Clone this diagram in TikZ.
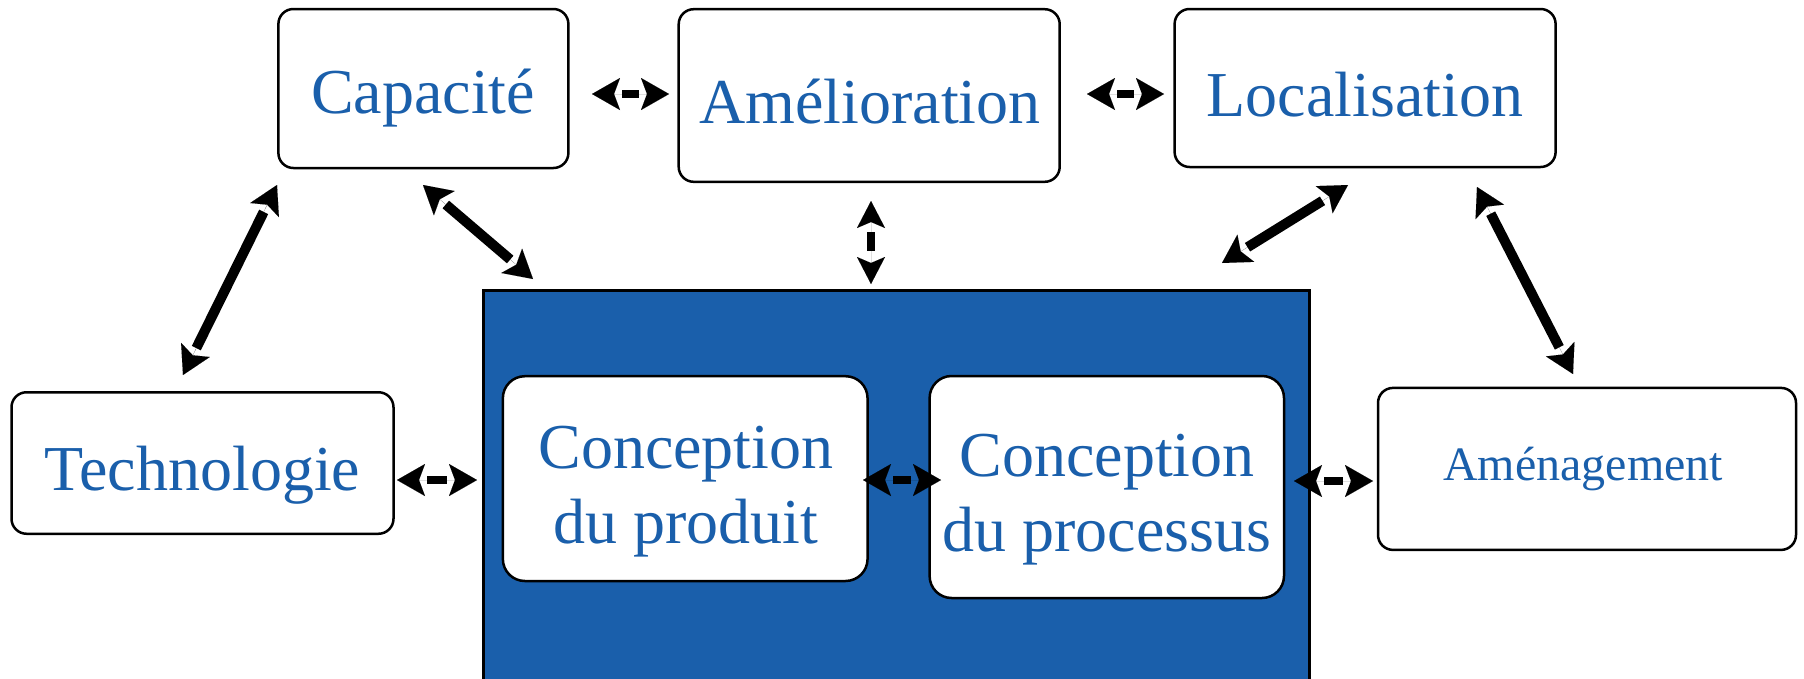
\documentclass[tikz,border=0pt]{standalone}
\usepackage{fontspec}
\setmainfont{Liberation Serif}
\usetikzlibrary{arrows.meta}
\definecolor{planblue}{RGB}{26,95,171}
\tikzset{
  box/.style={draw=black, line width=2.5pt, rounded corners=15pt, fill=white, inner sep=0pt},
  innerbox/.style={box, rounded corners=22pt},
  caption/.style={text=planblue, font=\fontsize{64}{75}\selectfont, anchor=base, inner sep=0pt, align=center},
  smallcaption/.style={caption, font=\fontsize{48}{56}\selectfont},
  tips/.style={line width=0.01pt, {Stealth[length=28pt,width=32pt,inset=6pt]}-{Stealth[length=28pt,width=32pt,inset=6pt]}},
  smalltips/.style={line width=0.01pt, {Stealth[length=27pt,width=28pt,inset=6pt]}-{Stealth[length=27pt,width=28pt,inset=6pt]}},
  shaft/.style={line width=#1, shorten <=30pt, shorten >=30pt},
  smallshaft/.style={line width=8.5pt, shorten <=31pt, shorten >=33pt}
}
% double-headed connector: separate heads, detached shaft
\newcommand\linkboth[3]{%
  \draw[tips] (#1) -- (#2);
  \draw[shaft=#3] (#1) -- (#2);
}
\begin{document}
\begin{tikzpicture}[x=1pt,y=-1pt]
\useasboundingbox (0,0) rectangle (1804,678);
\clip (0,0) rectangle (1804,678);

% central block
\node[draw=black, line width=2.5pt, fill=planblue, inner sep=0pt, anchor=north west,
      minimum width=826pt, minimum height=410pt] (core) at (482,289) {};

% boxes
\node[box, minimum width=290pt, minimum height=159pt] (cap) at (423.4,88.5) {};
\node[box, minimum width=381pt, minimum height=172.6pt] (ame) at (869.2,95.5) {};
\node[box, minimum width=381pt, minimum height=158pt] (loc) at (1365.1,88) {};
\node[box, minimum width=382pt, minimum height=141.5pt] (tech) at (202.5,463) {};
\node[box, minimum width=418pt, minimum height=162pt] (amen) at (1587,468.9) {};
\node[innerbox, minimum width=364.7pt, minimum height=204.8pt] (prod) at (685.2,478.6) {};
\node[innerbox, minimum width=354.4pt, minimum height=222pt] (proc) at (1106.8,487) {};

% captions (base anchor sits on the last line)
\node[caption] (capT) at (423,113) {Capacité};
\node[caption] (ameT) at (870,123) {Amélioration};
\node[caption] (locT) at (1365,116) {Localisation};
\node[caption] (techT) at (202.5,490) {Technologie};
\node[smallcaption] (amenT) at (1583,480) {Aménagement};
\node[caption] (prodT) at (686,543) {Conception\\du produit};
\node[caption] (procT) at (1107,551) {Conception\\du processus};

% connector ends
\coordinate (capE) at (592,94);   \coordinate (ameW) at (669,94);
\coordinate (ameE) at (1087,94);  \coordinate (locW) at (1164,94);
\coordinate (techN) at (183,375); \coordinate (capSW) at (277,185);
\coordinate (capSE) at (423,185); \coordinate (coreNW) at (533,279);
\coordinate (ameS) at (871,201);  \coordinate (coreN) at (871,284);
\coordinate (locSW) at (1348,185); \coordinate (coreNE) at (1222,263);
\coordinate (locSE) at (1477,187); \coordinate (amenN) at (1573,374);
\coordinate (techE) at (397,480); \coordinate (coreW) at (477,480);
\coordinate (prodE) at (863,480); \coordinate (procW) at (941,480);
\coordinate (procE) at (1294,481); \coordinate (amenW) at (1373,481);

% connectors
\linkboth{capE}{ameW}{8.5pt}
\linkboth{ameE}{locW}{8.5pt}
\linkboth{techN}{capSW}{10pt}
\linkboth{capSE}{coreNW}{10pt}
\draw[smalltips] (ameS) -- (coreN);
\draw[smallshaft] (ameS) -- (coreN);
\linkboth{locSW}{coreNE}{10pt}
\linkboth{locSE}{amenN}{10pt}
\linkboth{techE}{coreW}{8.5pt}
\linkboth{prodE}{procW}{8.5pt}
\linkboth{procE}{amenW}{8.5pt}
\end{tikzpicture}
\end{document}
